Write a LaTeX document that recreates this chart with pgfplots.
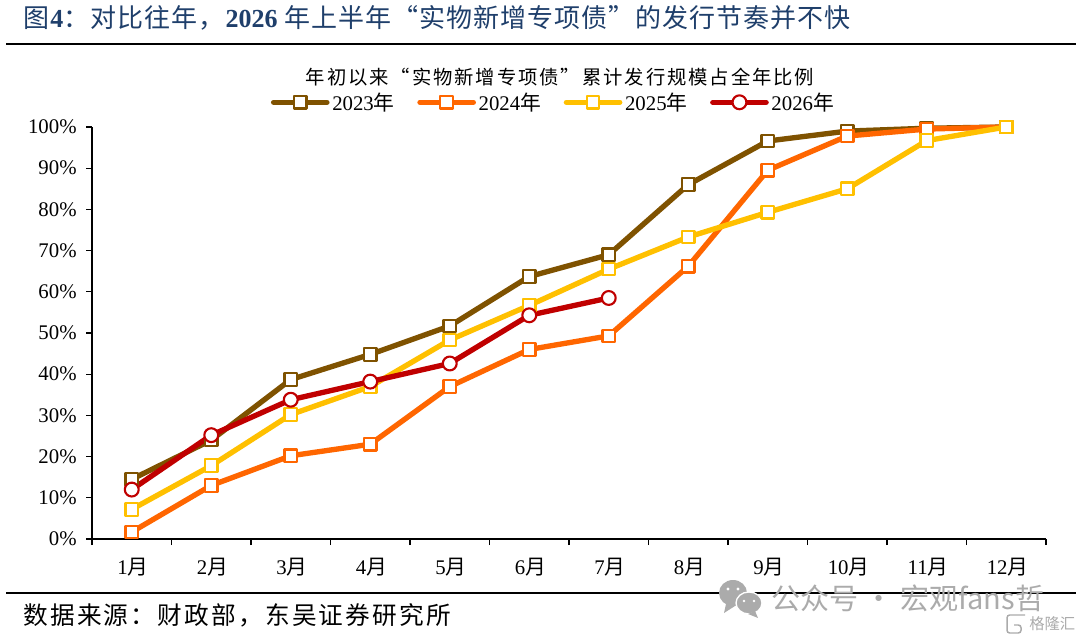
\documentclass[border=0pt]{standalone}
\usepackage{pgfplots}
\pgfplotsset{compat=1.18}
\usepackage{fontspec}
\setmainfont{Liberation Serif}
\newfontfamily\cjk{Noto Sans CJK SC}
\newfontfamily\cjkt[LetterSpace=10]{Noto Sans CJK SC}
\newfontfamily\cjks[LetterSpace=9]{Noto Sans CJK SC}
\newfontfamily\cjkh[LetterSpace=4]{Noto Sans CJK SC}
\newfontfamily\wm{Noto Sans CJK SC}
\definecolor{cA}{HTML}{7F5200}
\definecolor{cB}{HTML}{FF6600}
\definecolor{cC}{HTML}{FFC000}
\definecolor{cD}{HTML}{C00000}
\definecolor{hd}{HTML}{1F3F6B}
\definecolor{wmc}{HTML}{ABABAB}
\begin{document}
\begin{tikzpicture}[x=0.75pt,y=0.75pt]
\path[use as bounding box] (0,0) rectangle (1080,642);
\begin{axis}[
  at={(92pt*0.75,103pt*0.75)},anchor=south west,
  scale only axis,width=715.5pt,height=309pt,
  xmin=0.5,xmax=12.5,ymin=0,ymax=100,
  axis x line*=bottom,axis y line*=left,
  axis line style={black,line width=1.1pt,-},
  tick align=outside,
  xtick={1,...,12},
  xticklabels={1{\cjk 月},2{\cjk 月},3{\cjk 月},4{\cjk 月},5{\cjk 月},6{\cjk 月},7{\cjk 月},8{\cjk 月},9{\cjk 月},10{\cjk 月},11{\cjk 月},12{\cjk 月}},
  major x tick style={draw=none},
  minor xtick={0.5,1.5,...,12.5},
  minor tick length=4.5pt,
  minor x tick style={black,line width=1pt},
  ytick={0,10,...,100},
  yticklabels={0\%,10\%,20\%,30\%,40\%,50\%,60\%,70\%,80\%,90\%,100\%},
  major y tick style={black,line width=1pt},
  major tick length=4.5pt,
  ticklabel style={font=\fontsize{15.6pt}{17pt}\selectfont},
  y tick label style={xshift=-3.5pt},
  x tick label style={yshift=-6pt,xshift=1pt},
  clip=false,
  legend style={at={(0.484,1.0)},anchor=south,yshift=9pt,draw=none,fill=none,
    legend columns=4,font=\fontsize{15.6pt}{17pt}\selectfont,
    /tikz/every even column/.style={column sep=15pt},
    inner sep=0pt},
  legend cell align=left,
  legend image code/.code={\draw[mark repeat=2,mark phase=2,#1] plot coordinates {(0pt,0pt) (20pt,0pt) (40pt,0pt)};},
  every axis plot/.append style={line width=4pt,line join=round,line cap=round,
     mark options={solid,fill=white,line width=1.6pt},mark size=4.7pt},
]
\addplot[cA,mark=square*] coordinates {(1,14.5)(2,24)(3,38.7)(4,44.8)(5,51.7)(6,63.7)(7,69)(8,86)(9,96.6)(10,99)(11,99.7)(12,100)};
\addplot[cB,mark=square*] coordinates {(1,1.7)(2,13)(3,20.2)(4,23)(5,37)(6,46)(7,49.3)(8,66.2)(9,89.5)(10,97.8)(11,99.5)(12,100)};
\addplot[cC,mark=square*] coordinates {(1,7.2)(2,17.8)(3,30.2)(4,37)(5,48.3)(6,56.7)(7,65.5)(8,73.3)(9,79.3)(10,85)(11,96.7)(12,100)};
\addplot[cD,mark=*,mark size=5.2pt] coordinates {(1,12)(2,25.2)(3,33.8)(4,38.2)(5,42.6)(6,54.3)(7,58.5)};
\legend{2023{\cjk 年},2024{\cjk 年},2025{\cjk 年},2026{\cjk 年}}
\end{axis}
\node[anchor=west,text=hd,inner sep=0pt,font=\fontsize{19.5pt}{22pt}\selectfont] at (23,624) {{\cjkh 图}\textbf{4}{\cjkh ：对比往年，}\textbf{2026} {\cjkh 年上半年“实物新增专项债”的发行节奏并不快}};
\draw[black,line width=1.6pt] (6,598) -- (1076,598);
\draw[black,line width=1.6pt] (6,49) -- (1076,49);
\node[anchor=center,inner sep=0pt,font=\fontsize{14.5pt}{16pt}\selectfont] at (560,565) {{\cjkt 年初以来“实物新增专项债”累计发行规模占全年比例}};
\node[anchor=west,inner sep=0pt,font=\fontsize{18.5pt}{20pt}\selectfont] at (23,27) {{\cjks 数据来源：财政部，东吴证券研究所}};
\node[anchor=west,inner sep=0pt,text=wmc,font=\fontsize{21.8pt}{24pt}\selectfont] at (771,44) {{\wm 公众号 · 宏观fans哲}};
\fill[wmc] (733,49) ellipse (14 and 13);
\fill[wmc] (726,38) -- (724,29) -- (735,36) -- cycle;
\fill[wmc,draw=white,line width=1pt] (749,39) ellipse (13 and 11);
\fill[wmc] (755,31) -- (758,24) -- (748,28) -- cycle;
\fill[white] (728,53) circle (1.6) (738,53) circle (1.6) (744,41) circle (1.4) (754,41) circle (1.4);
\draw[wmc,line width=1.1pt,rounded corners=2pt] (1025,27) -- (1007,27) -- (1007,9) -- (1021,9) -- (1021,17) -- (1014,17);
\node[anchor=west,inner sep=0pt,text=wmc,font=\fontsize{11.5pt}{14pt}\selectfont] at (1029,18) {{\wm 格隆汇}};
\end{tikzpicture}
\end{document}
